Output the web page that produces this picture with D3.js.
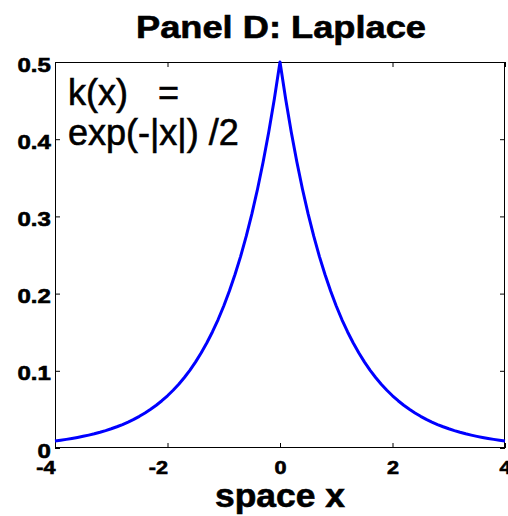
<!DOCTYPE html>
<html>
<head>
<meta charset="utf-8">
<script src="https://cdn.jsdelivr.net/npm/d3@7"></script>
<style>
  body { margin: 0; background: #fff; }
  .chart { width: 508px; height: 516px; }
  text { font-family: "Liberation Sans", Arial, sans-serif; font-weight: bold; fill: #000; }
  /* thicken the glyphs slightly */
  text.heavy { stroke: #000; stroke-width: 0.6px; }
</style>
</head>
<body>
<div class="chart"></div>
<script>
//Global object for the chart logic
let chart = {};

//Tick values for both axes
const xTicks = [-4, -2, 0, 2, 4];
const yTicks = [0, 0.1, 0.2, 0.3, 0.4, 0.5];

//Sample grid, -4 to 4 in steps of 0.1
const xGrid = d3.range(-40, 41).map(i => i / 10);

//Kernel values k(x) on that grid
const kValues = [
    0.00916, 0.01012, 0.01119, 0.01236, 0.01366, 0.01510, 0.01669, 0.01844, 0.02038, 0.02252,
    0.02489, 0.02751, 0.03041, 0.03360, 0.03714, 0.04104, 0.04536, 0.05013, 0.05540, 0.06123,
    0.06767, 0.07478, 0.08265, 0.09134, 0.10095, 0.11157, 0.12330, 0.13627, 0.15060, 0.16644,
    0.18394, 0.20328, 0.22466, 0.24829, 0.27441, 0.30327, 0.33516, 0.37041, 0.40937, 0.45242,
    0.5,
    0.45242, 0.40937, 0.37041, 0.33516, 0.30327, 0.27441, 0.24829, 0.22466, 0.20328, 0.18394,
    0.16644, 0.15060, 0.13627, 0.12330, 0.11157, 0.10095, 0.09134, 0.08265, 0.07478, 0.06767,
    0.06123, 0.05540, 0.05013, 0.04536, 0.04104, 0.03714, 0.03360, 0.03041, 0.02751, 0.02489,
    0.02252, 0.02038, 0.01844, 0.01669, 0.01510, 0.01366, 0.01236, 0.01119, 0.01012, 0.00916
];

const title = "Panel D: Laplace";
const xLabel = "space x";
const formula = ["k(x)   =", "exp(-|x|) /2"];

init();

function init() {
    chart.data = xGrid.map((x, i) => ({ x: x, k: kValues[i] }));
    setDimensions();
    setScales();
    appendElements();
}

function setDimensions() {
    chart.margin = { top: 62, right: 3, bottom: 68, left: 55 };
    chart.width = 508 - chart.margin.left - chart.margin.right;
    chart.height = 516 - chart.margin.top - chart.margin.bottom;
}

function setScales() {
    chart.x = d3.scaleLinear().domain([-4, 4]).range([0, chart.width]);
    chart.y = d3.scaleLinear().domain([0, 0.5]).range([chart.height, 0]);
    chart.line = d3.line().x(d => chart.x(d.x)).y(d => chart.y(d.k));
}

function appendElements() {
    chart.svg = d3.select(".chart").append("svg")
        .attr("width", 508)
        .attr("height", 516);

    chart.plot = chart.svg.append("g")
        .attr("transform", `translate(${chart.margin.left},${chart.margin.top})`);

    //Ticks point inward on all four sides, labels only bottom and left
    let tick = 5;
    //tick labels are drawn a little wider than the font
    let stretch = 1.2;

    let bottom = chart.plot.append("g")
        .attr("transform", `translate(0,${chart.height})`)
        .call(d3.axisBottom(chart.x).tickValues(xTicks).tickSize(-tick).tickSizeOuter(0)
            .tickFormat(d => String(d)));
    bottom.selectAll("text")
        .attr("class", "heavy")
        .attr("x", 0)
        .attr("y", 26)
        .attr("dy", 0)
        .attr("transform", `scale(${stretch},1)`)
        .attr("text-anchor", d => d < 0 ? "end" : "middle")
        .style("font-size", "18px");

    let left = chart.plot.append("g")
        .call(d3.axisLeft(chart.y).tickValues(yTicks).tickSize(-tick).tickSizeOuter(0)
            .tickFormat(d => d === 0 ? "0" : d3.format(".1f")(d)));
    left.selectAll("text")
        .attr("class", "heavy")
        .attr("x", -3.5)
        .attr("dy", 0)
        .attr("y", 9)
        .attr("transform", `scale(${stretch},1)`)
        .style("font-size", "20px");

    chart.plot.append("g")
        .call(d3.axisTop(chart.x).tickValues(xTicks).tickSize(-tick).tickSizeOuter(0).tickFormat(""));

    chart.plot.append("g")
        .attr("transform", `translate(${chart.width},0)`)
        .call(d3.axisRight(chart.y).tickValues(yTicks).tickSize(-tick).tickSizeOuter(0).tickFormat(""));

    chart.plot.selectAll(".domain").remove();
    chart.plot.selectAll(".tick line").attr("stroke", "#000");

    //Axes box
    chart.plot.append("rect")
        .attr("x", 0.5)
        .attr("y", 0.5)
        .attr("width", chart.width - 1)
        .attr("height", chart.height - 1)
        .attr("fill", "none")
        .attr("stroke", "#000")
        .attr("stroke-width", 1);

    //Kernel curve
    chart.plot.append("path")
        .datum(chart.data)
        .attr("d", chart.line)
        .attr("fill", "none")
        .attr("stroke", "#0000ff")
        .attr("stroke-width", 3)
        .attr("stroke-linejoin", "round");

    //Formula annotation in the upper left
    chart.plot.selectAll("text.formula")
        .data(formula).enter()
        .append("text")
        .attr("class", "formula heavy")
        .attr("x", 13)
        .attr("y", (d, i) => 43 + i * 40)
        .style("font-size", "36px")
        .style("font-weight", "normal")
        .style("white-space", "pre")
        .text(d => d);

    chart.svg.append("text")
        .attr("class", "heavy")
        .attr("x", 281)
        .attr("y", 38)
        .attr("text-anchor", "middle")
        .attr("textLength", 290)
        .attr("lengthAdjust", "spacingAndGlyphs")
        .style("font-size", "31px")
        .text(title);

    chart.svg.append("text")
        .attr("class", "heavy")
        .attr("x", 280)
        .attr("y", 507)
        .attr("text-anchor", "middle")
        .attr("textLength", 130)
        .attr("lengthAdjust", "spacingAndGlyphs")
        .style("font-size", "33px")
        .text(xLabel);
}
</script>
</body>
</html>
